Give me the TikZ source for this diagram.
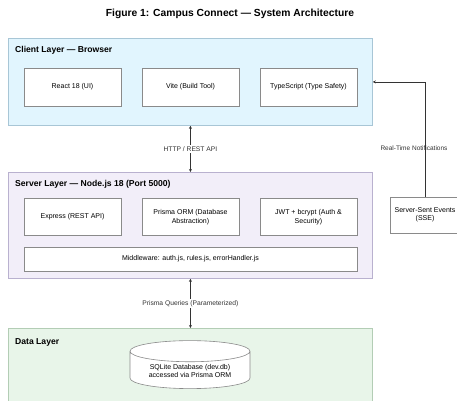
\documentclass[tikz,border=0pt]{standalone}
\usepackage{fontspec}
\setmainfont{Liberation Sans}
\usetikzlibrary{arrows.meta,positioning,shapes.geometric}
\definecolor{clientbg}{HTML}{E1F5FE}
\definecolor{clientln}{HTML}{A8C6D6}
\definecolor{serverbg}{HTML}{F2EEF9}
\definecolor{serverln}{HTML}{B9B1CF}
\definecolor{databg}{HTML}{E8F5E9}
\definecolor{dataln}{HTML}{B3CDB5}
\definecolor{boxln}{HTML}{8A8A8A}
\definecolor{arrc}{HTML}{333333}
\tikzset{
  layer/.style={draw=#1ln,fill=#1bg,line width=0.8pt,anchor=north west,minimum width=364pt,inner sep=0pt},
  laylbl/.style={anchor=west,font=\fontsize{8.6}{10}\selectfont\bfseries,inner sep=0pt},
  comp/.style={draw=boxln,fill=white,line width=0.6pt,align=center,minimum width=97pt,minimum height=38pt,inner sep=2pt,font=\fontsize{7}{8.4}\selectfont},
  elbl/.style={fill=white,inner sep=1.5pt,font=\fontsize{6.7}{8}\selectfont},
  biarr/.style={{Stealth[length=3pt,width=3pt]}-{Stealth[length=3pt,width=3pt]},arrc,line width=0.6pt},
  arr/.style={-{Stealth[length=3pt,width=3pt]},arrc,line width=0.6pt}
}
\begin{document}
\begin{tikzpicture}[x=1pt,y=-1pt]
\useasboundingbox (0,0) rectangle (457,400);
\node[font=\fontsize{10.3}{12}\selectfont\bfseries] (title) at (230,14) {Figure 1: Campus Connect — System Architecture};

\node[layer=client,minimum height=87pt] (client) at (8,38) {};
\node[laylbl] (clientlbl) at (15,50) {Client Layer — Browser};
\node[comp] (react) at (72.5,87) {React 18 (UI)};
\node[comp] (vite) at (190.5,87) {Vite (Build Tool)};
\node[comp] (tscript) at (308.5,87) {TypeScript (Type Safety)};

\node[layer=server,minimum height=106pt] (server) at (8,172) {};
\node[laylbl] (serverlbl) at (15,184) {Server Layer — Node.js 18 (Port 5000)};
\node[comp,minimum height=37pt] (express) at (72.5,217) {Express (REST API)};
\node[comp,minimum height=37pt] (prisma) at (190.5,217) {Prisma ORM (Database\\Abstraction)};
\node[comp,minimum height=37pt] (jwt) at (308.5,217) {JWT + bcrypt (Auth \&\\Security)};
\node[comp,minimum width=333pt,minimum height=24pt] (middleware) at (190.5,259) {Middleware: auth.js, rules.js, errorHandler.js};

\node[comp,minimum width=70pt,minimum height=36pt] (sse) at (425,215) {Server-Sent Events\\(SSE)};

\node[layer=data,minimum height=74pt] (data) at (8,328) {};
\node[laylbl] (datalbl) at (15,342) {Data Layer};
\node[draw=boxln,fill=white,line width=0.6pt,cylinder,shape border rotate=90,aspect=0.25,minimum width=120pt,minimum height=48pt,align=center,inner sep=1pt,font=\fontsize{7}{8.4}\selectfont] (sqlite) at (190,371) {SQLite Database (dev.db)\\accessed via Prisma ORM};

\draw[biarr] (client.south) -- node[elbl] {HTTP / REST API} (server.north);
\draw[biarr] (server.south) -- node[elbl] {Prisma Queries (Parameterized)} (data.north);
\draw[arr] (sse.north) |- node[pos=0.21,xshift=-11pt,inner sep=0pt,font=\fontsize{6.5}{8}\selectfont] {Real-Time Notifications} (client.east);
\end{tikzpicture}
\end{document}
